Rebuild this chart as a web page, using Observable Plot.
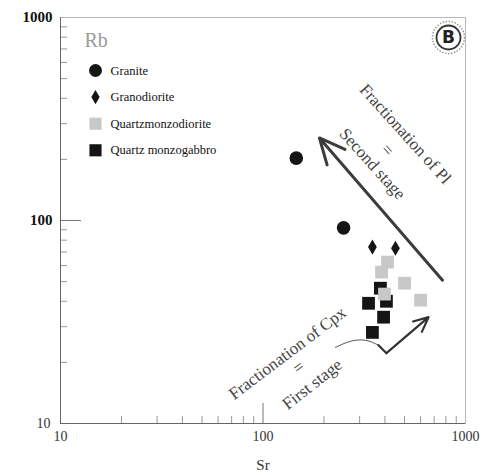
<!DOCTYPE html>
<html><head><meta charset="utf-8">
<script src="https://cdn.jsdelivr.net/npm/d3@7"></script>
<script src="https://cdn.jsdelivr.net/npm/@observablehq/plot@0.6"></script>
<style>body{margin:0;background:#fff}</style>
</head><body><div id="chart"></div>
<script>
// ---- data ----
const groups = ["Granite", "Granodiorite", "Quartzmonzodiorite", "Quartz monzogabbro"];
const symbols = ["circle", "diamond", "square", "square"];
const colors = ["#151515", "#151515", "#c8c8c8", "#151515"];
const radii = [6.8, 4.6, 7.2, 7.2];

const graniteSr = [146, 250];
const graniteRb = [203, 92];
const granodioriteSr = [347, 451];
const granodioriteRb = [74, 73];
const qmDioriteSr = [412, 385, 500, 600, 398];
const qmDioriteRb = [62.4, 55.7, 49.1, 40.5, 43.4];
const qmGabbroSr = [380, 332, 407, 394, 347];
const qmGabbroRb = [46.4, 39.1, 40.0, 33.4, 28.1];

const majorTicks = [10, 100, 1000];
const minorTicks = [20, 30, 40, 50, 60, 70, 80, 90, 200, 300, 400, 500, 600, 700, 800, 900];

// annotation arrows (Sr, Rb)
const arrowSecond = [{sr1: 770, rb1: 50.8, sr2: 190, rb2: 255}];
const leaderSr = [228, 270, 321, 372];
const leaderRb = [23.7, 25.4, 25.7, 24.3];
const kinkSr = [372, 407];
const kinkRb = [24.3, 22.2];
const arrowFirst = [{sr1: 407, rb1: 22.2, sr2: 657, rb2: 33.4}];

const labelTexts = ["Fractionation of Pl", "=", "Second stage", "Fractionation of Cpx", "=", "First stage"];
const labelSr = [505, 412, 347, 132, 150, 175];
const labelRb = [267, 223, 190, 22.2, 18.9, 15.6];
const labelAngle = [48, 48, 48, -37, -37, -38];

// ---- build ----
const W = 482, H = 475, ML = 60, MR = 17, MT = 17, MB = 52;
const FW = W - ML - MR, FH = H - MT - MB;
const toRows = (sr, rb, g) => sr.map((s, i) => ({sr: s, rb: rb[i], g}));
const drawOrder = [
  [graniteSr, graniteRb, 0],
  [granodioriteSr, granodioriteRb, 1],
  [qmGabbroSr, qmGabbroRb, 3],
  [qmDioriteSr, qmDioriteRb, 2]
];
const labels = labelTexts.map((t, i) => ({t, sr: labelSr[i], rb: labelRb[i], a: labelAngle[i]}));
const serif = "Liberation Serif, Times New Roman, DejaVu Serif, serif";

const marks = [
  Plot.frame({stroke: "#b8b8b8"}),
  // inward ticks
  Plot.ruleX(minorTicks, {insetTop: FH - 7, stroke: "#999"}),
  Plot.ruleX([100], {insetTop: FH - 20, stroke: "#777"}),
  Plot.ruleY(minorTicks, {insetRight: FW - 7, stroke: "#999"}),
  Plot.ruleY([100], {insetRight: FW - 21, stroke: "#777"}),
  Plot.ruleX([10], {stroke: "#666"}),
  Plot.ruleY([10], {stroke: "#666"}),
  Plot.axisX(majorTicks, {anchor: "bottom", tickSize: 0, tickPadding: 8, fontSize: 14, fill: "#333", fontFamily: serif, tickFormat: d => String(d)}),
  Plot.axisY([100, 1000], {anchor: "left", tickSize: 0, tickPadding: 8, fontSize: 15, fontWeight: "bold", fill: "#111", fontFamily: serif, tickFormat: d => String(d)}),
  Plot.axisY([10], {anchor: "left", tickSize: 0, tickPadding: 10, fontSize: 14, fill: "#333", fontFamily: serif, tickFormat: d => String(d)}),
  Plot.text(["Sr"], {frameAnchor: "bottom", dy: 42, lineAnchor: "middle", fontSize: 15, fill: "#333", fontFamily: serif}),
  Plot.text(["Rb"], {frameAnchor: "top-left", dx: 24, dy: 23, textAnchor: "start", lineAnchor: "middle", fontSize: 20, fill: "#9a9a9a", fontFamily: serif}),
  // legend
  ...groups.flatMap((g, i) => [
    Plot.dot([g], {frameAnchor: "top-left", dx: 35, dy: 53 + i * 26.6, symbol: symbols[i], r: radii[i] * 0.95, fill: colors[i], stroke: null}),
    Plot.text([g], {frameAnchor: "top-left", dx: 50, dy: 53 + i * 26.6, textAnchor: "start", lineAnchor: "middle", fontSize: 12.5, fill: "#111", fontFamily: serif, letterSpacing: "0.7px"})
  ]),
  // badge
  Plot.dot([0], {frameAnchor: "top-right", dx: -17, dy: 20, r: 16, fill: "white", stroke: "#999", strokeDasharray: "1.5,1.5"}),
  Plot.dot([0], {frameAnchor: "top-right", dx: -17, dy: 20, r: 12, fill: "white", stroke: "#333", strokeWidth: 1.8}),
  Plot.text(["B"], {frameAnchor: "top-right", dx: -17, dy: 20, textAnchor: "middle", lineAnchor: "middle", fontSize: 17, fontWeight: "bold", fill: "#222", fontFamily: "DejaVu Sans, sans-serif"}),
  // annotations
  Plot.arrow(arrowSecond, {x1: "sr1", y1: "rb1", x2: "sr2", y2: "rb2", stroke: "#3c3c3c", strokeWidth: 3, headLength: 14, headAngle: 50}),
  Plot.line(leaderSr.map((s, i) => [s, leaderRb[i]]), {curve: "natural", stroke: "#555", strokeWidth: 1}),
  Plot.line(kinkSr.map((s, i) => [s, kinkRb[i]]), {stroke: "#333", strokeWidth: 2.2}),
  Plot.arrow(arrowFirst, {x1: "sr1", y1: "rb1", x2: "sr2", y2: "rb2", stroke: "#333", strokeWidth: 2.2, headLength: 11, headAngle: 50}),
  Plot.text(labels, {x: "sr", y: "rb", text: "t", rotate: "a", fontSize: 17, fill: "#444", fontFamily: serif}),
  // data
  ...drawOrder.map(([sr, rb, gi]) =>
    Plot.dot(toRows(sr, rb, groups[gi]), {x: "sr", y: "rb", symbol: () => symbols[gi], r: radii[gi], fill: colors[gi], stroke: null})
  )
];

const chart = Plot.plot({
  width: W,
  height: H,
  marginLeft: ML,
  marginRight: MR,
  marginTop: MT,
  marginBottom: MB,
  x: {type: "log", domain: [10, 1000], axis: null},
  y: {type: "log", domain: [10, 1000], axis: null},
  symbol: {type: "identity"},
  style: {background: "#fff", fontFamily: serif},
  marks
});
document.getElementById("chart").appendChild(chart);
</script>
</body></html>
